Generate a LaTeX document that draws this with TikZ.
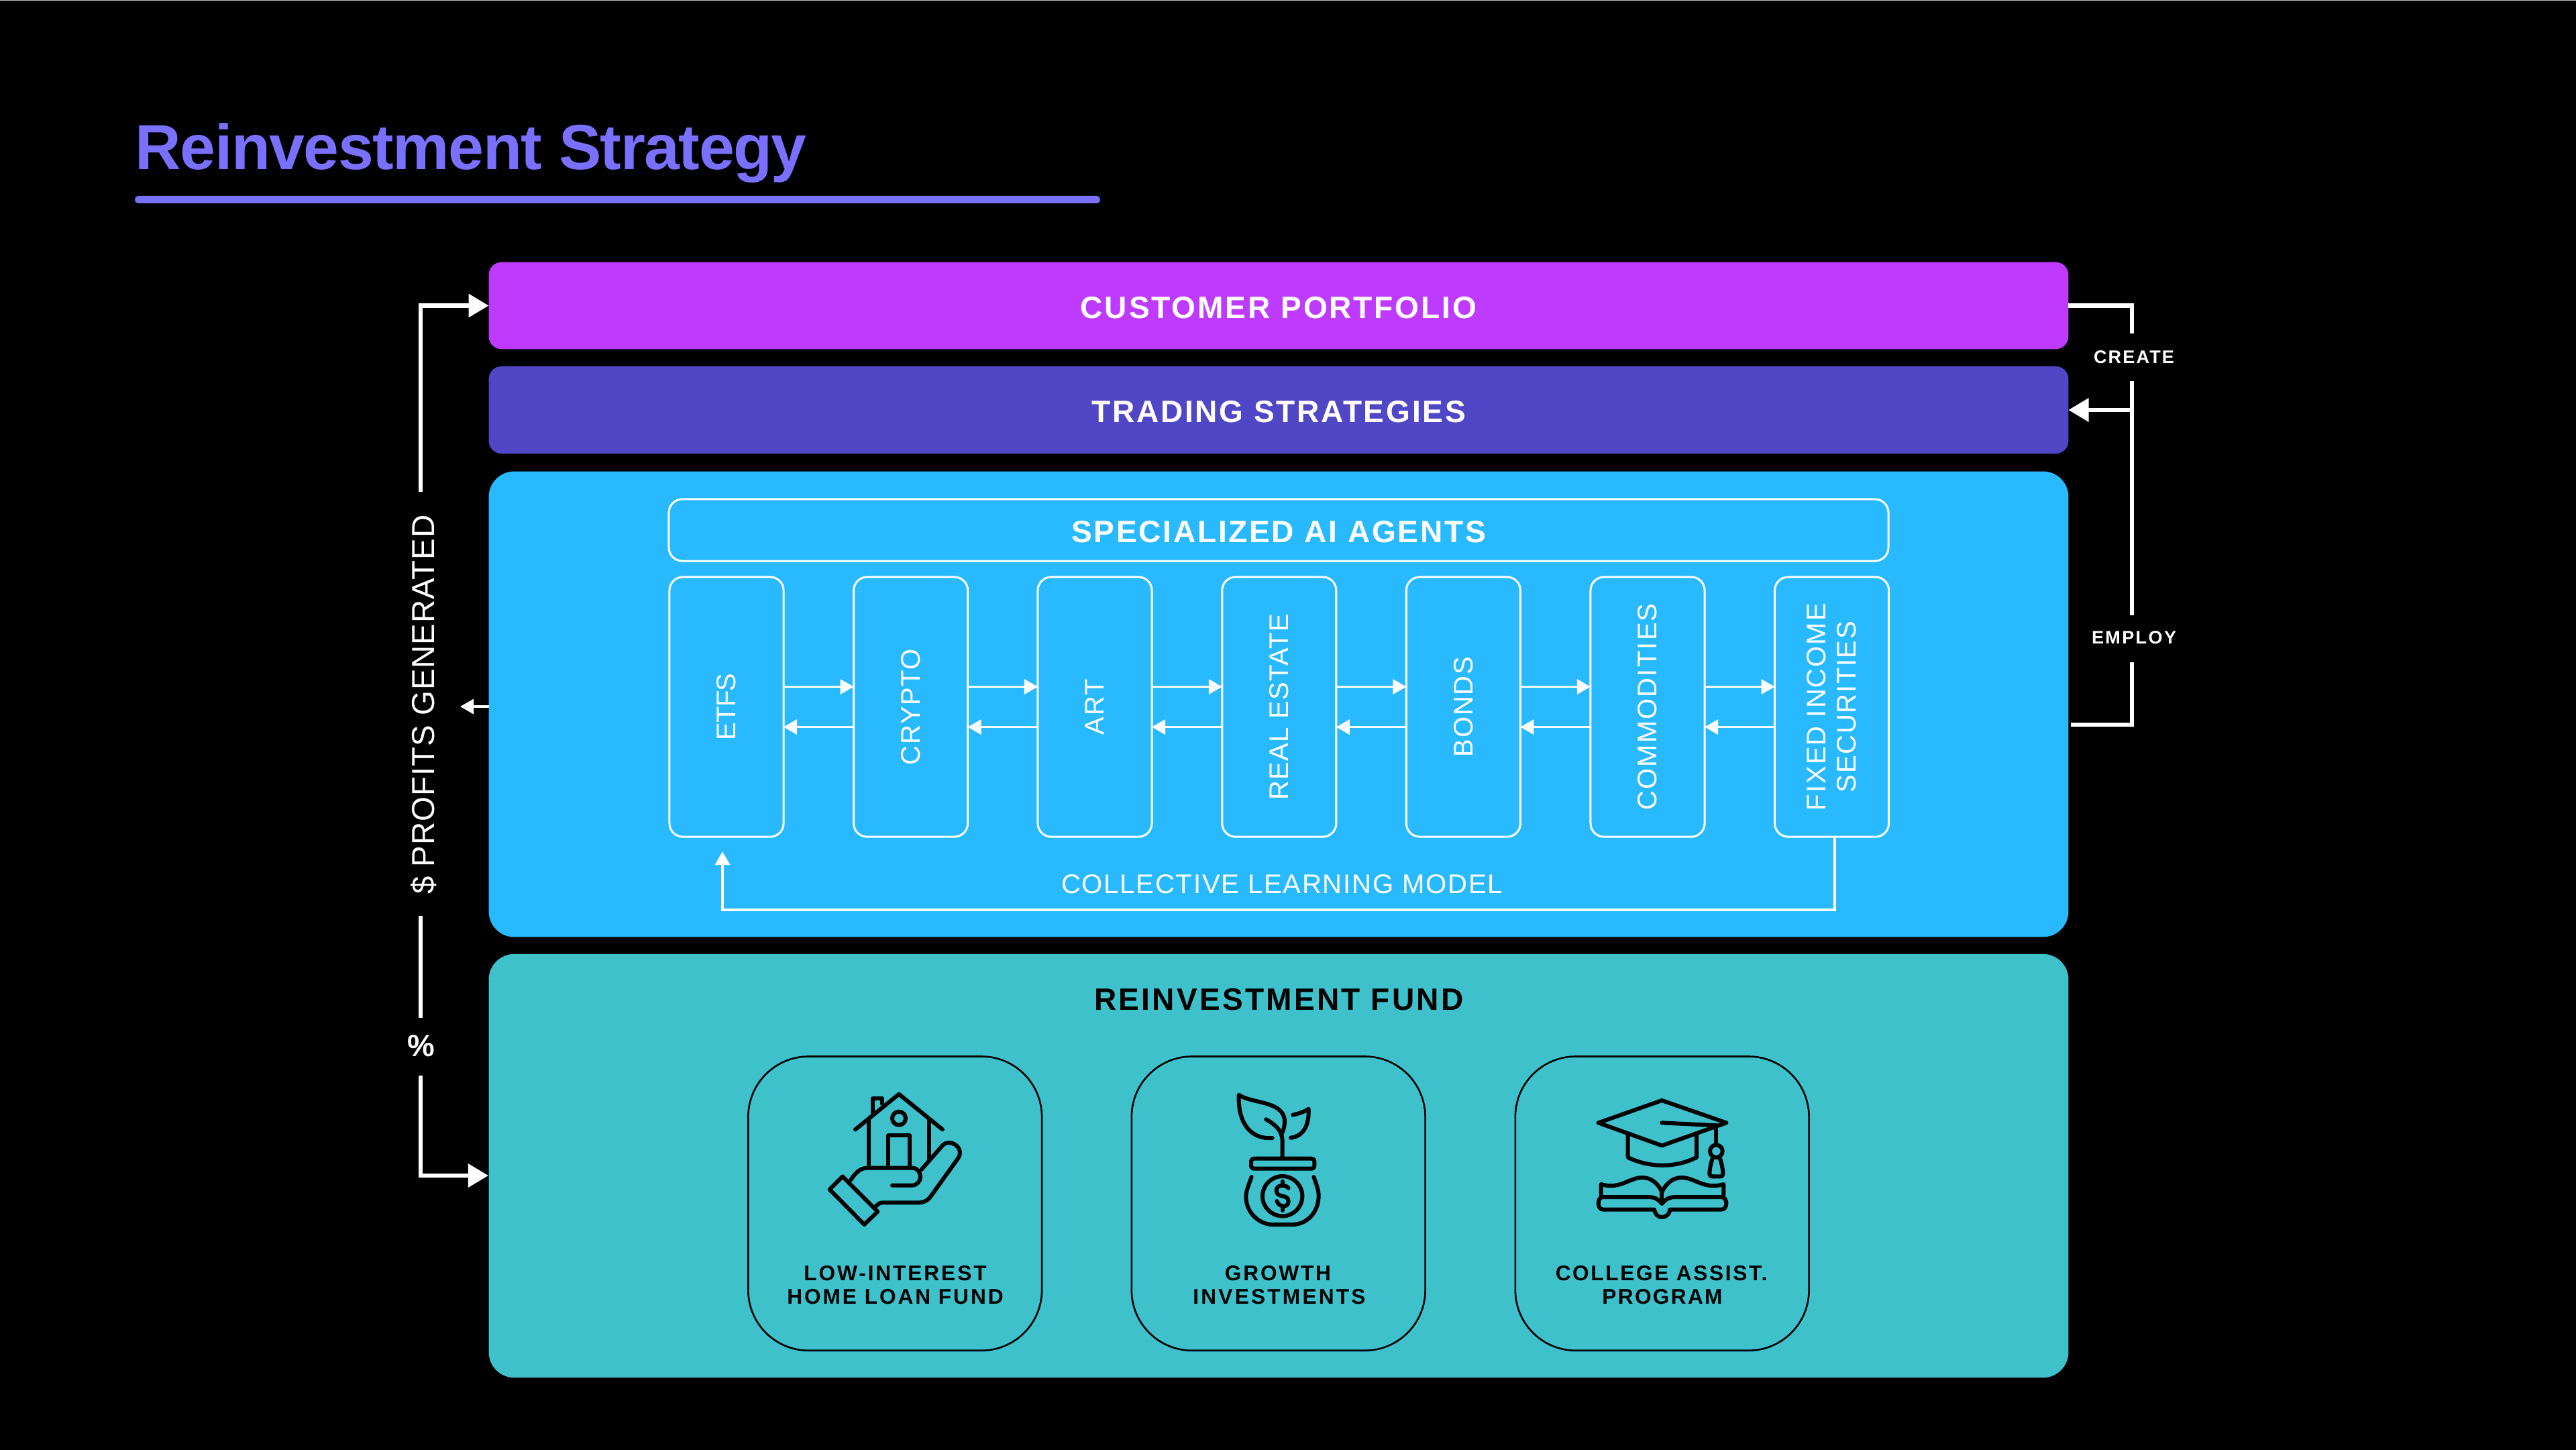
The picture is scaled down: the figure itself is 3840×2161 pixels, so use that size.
\documentclass[tikz,border=0pt]{standalone}
\usepackage{fontspec}
\setmainfont{Liberation Sans}
\usetikzlibrary{arrows.meta}
\ExplSyntaxOn
\cs_new:Npn \nch #1 {\str_count:n{#1}}
\ExplSyntaxOff
\makeatletter
\newcommand\trk[2]{{\setbox0\hbox{#2}\edef\nn{\nch{#2}}%
\pgfmathsetmacro\lsv{100*(#1*0.28453-\the\wd0)/((\nn-1)*\f@size)}%
\edef\tmp{\noexpand\addfontfeature{LetterSpace=\lsv}}\tmp #2}}
\makeatother
\newcommand\dn[1]{\raisebox{-.025cm}[\height][0pt]{#1}}
\definecolor{cpurple}{HTML}{BF3AFF}
\definecolor{cindigo}{HTML}{5046C6}
\definecolor{cblue}{HTML}{29B9FF}
\definecolor{cteal}{HTML}{3FC1CC}
\definecolor{ctitle}{HTML}{7A70FF}
\tikzset{
 bar/.style={inner sep=0,outer sep=0,minimum width=23.535cm,text=white},
 barfont/.style={font=\bfseries\fontsize{13.1}{15}\selectfont},
 agent/.style={draw=white,line width=.03cm,rounded corners=.2cm,inner sep=0,outer sep=0},
 agtext/.style={text=white,inner sep=0,align=center,font=\fontsize{11.4}{12.8}\selectfont},
 card/.style={draw=black,line width=.026cm,rounded corners=.9cm,minimum width=4.375cm,minimum height=4.38cm,inner sep=0,outer sep=0},
 cardtext/.style={text=black,inner sep=0,font=\bfseries\fontsize{9}{10}\selectfont},
 sidetext/.style={text=white,inner sep=0,font=\bfseries\fontsize{7.7}{9}\selectfont},
 heavy/.style={draw=white,line width=.06cm},
 thin/.style={draw=white,line width=.035cm},
 bighead/.style={-{Triangle[length=.3cm,width=.34cm]}},
 smallhead/.style={-{Triangle[length=.2cm,width=.22cm]}},
 icon/.style={draw=black,line width=.06cm,line cap=round,line join=round},
}
\begin{document}
\begin{tikzpicture}[x=.01cm,y=-.01cm]
\useasboundingbox (0,0) rectangle (3840,2161);
\fill[black] (0,0) rectangle (3840,2161);
\fill[black!25!white] (0,0) rectangle (3840,1);
% title
\node[anchor=base west,inner sep=0,text=ctitle,font=\bfseries\fontsize{27}{30}\selectfont] (title) at (201,252.7) {\trk{999}{Reinvestment Strategy}};
\fill[ctitle,rounded corners=.05cm] (201,292) rectangle (1640,303);
% bars
\node[bar,fill=cpurple,rounded corners=.19cm,minimum height=1.295cm,barfont] (purple) at (1906,455.5) {\dn{\trk{593}{CUSTOMER PORTFOLIO}}};
\node[bar,fill=cindigo,rounded corners=.19cm,minimum height=1.3cm,barfont] (indigo) at (1906,611) {\dn{\trk{560}{TRADING STRATEGIES}}};
\node[bar,fill=cblue,rounded corners=.38cm,minimum height=6.935cm] (blue) at (1906,1049.5) {};
\node[bar,fill=cteal,rounded corners=.38cm,minimum height=6.31cm] (teal) at (1906,1737.5) {};
% agents
\node[agent,minimum width=18.17cm,minimum height=.92cm,text=white,barfont] (agents) at (1906,790) {\dn{\trk{623}{SPECIALIZED AI AGENTS}}};
\foreach \i/\x in {1/1083,2/1357.6,3/1632,4/1906.8,5/2181.4,6/2456,7/2730.6}
  \node[agent,minimum width=1.7cm,minimum height=3.87cm] (a\i) at (\x,1053.5) {};
\node[agtext,rotate=90] (t1) at (a1) {\trk{100}{ETFS}};
\node[agtext,rotate=90] (t2) at (a2) {\trk{173}{CRYPTO}};
\node[agtext,rotate=90] (t3) at (a3) {\trk{83}{ART}};
\node[agtext,rotate=90] (t4) at (a4) {\trk{279}{REAL ESTATE}};
\node[agtext,rotate=90] (t5) at (a5) {\trk{150}{BONDS}};
\node[agtext,rotate=90] (t6) at (a6) {\trk{308}{COMMODITIES}};
\node[agtext,rotate=90] (t7) at (a7) {\trk{311}{FIXED INCOME}\\\trk{255}{SECURITIES}};
\foreach \i/\j in {1/2,2/3,3/4,4/5,5/6,6/7}{
  \draw[thin,smallhead] ([yshift=.3cm]a\i.east) -- ([yshift=.3cm]a\j.west);
  \draw[thin,smallhead] ([yshift=-.3cm]a\j.west) -- ([yshift=-.3cm]a\i.east);
}
\coordinate (fbcorner) at (1077,1356);
\coordinate (fbtip) at (1077,1269);
\draw[thin,smallhead] ([xshift=.044cm]a7.south) |- (fbcorner) -- (fbtip);
\node[agtext] (collective) at (1911,1318) {\trk{661}{COLLECTIVE LEARNING MODEL}};
% left side
\node[text=white,inner sep=0,rotate=90,font=\fontsize{13.5}{15}\selectfont] (profits) at (632,1050) {\trk{568}{\$ PROFITS GENERATED}};
\node[text=white,inner sep=0,font=\bfseries\fontsize{13}{15}\selectfont] (pct) at (628,1559) {\%};
\coordinate (l1) at (627,733);
\coordinate (l2) at (627,1365);
\coordinate (l3) at (627,1517);
\coordinate (l4) at (627,1603);
\coordinate (l5) at (728,1752);
\coordinate (l6) at (686,1053);
\coordinate (l7) at (729,1053);
\draw[heavy,bighead] (l1) |- (purple.west);
\draw[heavy] (l2) -- (l3);
\draw[heavy,bighead] (l4) |- (l5);
\draw[thin,smallhead] (l7) -- (l6);
% right side
\node[sidetext] (create) at (3181,532) {\trk{120}{CREATE}};
\node[sidetext] (employ) at (3181,950.5) {\trk{126}{EMPLOY}};
\coordinate (r1) at (3178,497);
\coordinate (r2) at (3178,568);
\coordinate (r3) at (3178,917);
\coordinate (r4) at (3178,611);
\coordinate (r5) at (3178,987);
\coordinate (r6) at (3087,1080);
\draw[heavy] (purple.east) -| (r1);
\draw[heavy] (r2) -- (r3);
\draw[heavy,bighead] (r4) -- (indigo.east);
\draw[heavy] (r5) |- (r6);
% fund
\node[text=black,inner sep=0,barfont] (fund) at (1906.5,1490) {\trk{553}{REINVESTMENT FUND}};
\node[card] (c1) at (1334.2,1793.6) {};
\node[card] (c2) at (1905.7,1793.6) {};
\node[card] (c3) at (2477.7,1793.6) {};
\node[cardtext] (c1a) at (1334.5,1897.5) {\trk{272}{LOW-INTEREST}};
\node[cardtext] (c1b) at (1334.5,1933) {\trk{328}{HOME LOAN FUND}};
\node[cardtext] (c2a) at (1905,1897.5) {\trk{158}{GROWTH}};
\node[cardtext] (c2b) at (1907,1933) {\trk{257}{INVESTMENTS}};
\node[cardtext] (c3a) at (2476.5,1897.5) {\trk{318}{COLLEGE ASSIST.}};
\node[cardtext] (c3b) at (2478,1933) {\trk{179}{PROGRAM}};
% house icon
\begin{scope}[shift={(1200,1600)},scale=.33333]
\draw[icon] (225,250) -- (420,92) -- (615,250);
\draw[icon] (302,180) -- (302,110) -- (345,110) -- (345,135);
\draw[icon] (420,200) circle[radius=.3cm];
\draw[icon] (285,205) -- (285,415);
\draw[icon] (555,210) -- (555,390);
\draw[icon] (372,415) -- (372,277) -- (468,277) -- (468,415);
\draw[icon] (168,460) -- (110,518) -- (265,675) -- (325,617) -- cycle;
\draw[icon] (205,475) .. controls (225,445) and (245,422) .. (280,422) -- (480,422) .. controls (505,422) and (516,445) .. (516,462) .. controls (516,482) and (500,500) .. (478,500) -- (390,500);
\draw[icon] (520,430) -- (618,318) .. controls (650,290) and (715,330) .. (685,378) -- (565,545) .. controls (550,568) and (530,577) .. (510,577) -- (345,577) .. controls (335,577) and (325,585) .. (315,595);
\end{scope}
% plant icon
\begin{scope}[shift={(1800,1600)},scale=.33333]
\draw[icon] (290,288) .. controls (200,295) and (135,230) .. (140,95) .. controls (195,135) and (345,120) .. (345,215) .. controls (345,235) and (340,250) .. (332,270);
\draw[icon] (262,205) .. controls (300,225) and (335,255) .. (335,300) -- (335,375);
\draw[icon] (382,185) .. controls (410,178) and (435,170) .. (452,158) .. controls (455,230) and (430,280) .. (372,287);
\draw[icon,rounded corners=.04cm] (195,380) rectangle (478,425);
\draw[icon] (197,462) .. controls (185,495) and (172,525) .. (172,550) .. controls (172,625) and (235,675) .. (290,675) -- (380,675) .. controls (440,675) and (497,625) .. (497,545) .. controls (497,520) and (485,490) .. (475,462);
\draw[icon] (335,548) circle[radius=.89cm];
\draw[icon] (362,512) .. controls (350,495) and (308,495) .. (308,522) .. controls (308,560) and (362,535) .. (362,572) .. controls (362,600) and (320,600) .. (310,570);
\draw[icon] (335,482) -- (335,498);
\draw[icon] (335,598) -- (335,612);
\end{scope}
% graduation icon
\begin{scope}[shift={(2360,1620)},scale=.33333]
\draw[icon] (352,60) -- (640,160) -- (352,262) -- (68,160) -- cycle;
\draw[icon] (352,160) -- (600,172);
\draw[icon] (200,215) -- (200,315) .. controls (300,362) and (410,362) .. (507,315) -- (507,215);
\draw[icon] (595,175) -- (595,255);
\draw[icon] (595,287) circle[radius=.28cm];
\draw[icon] (578,320) .. controls (568,350) and (565,375) .. (565,390) .. controls (565,398) and (572,400) .. (580,400) -- (610,400) .. controls (620,400) and (625,398) .. (625,390) .. controls (625,375) and (622,350) .. (612,320);
\draw[icon] (80,485) -- (80,435) .. controls (165,460) and (205,405) .. (265,405) .. controls (310,405) and (340,440) .. (352,470) .. controls (365,440) and (395,405) .. (440,405) .. controls (500,405) and (540,460) .. (628,435) -- (628,485);
\draw[icon] (352,470) -- (352,515);
\draw[icon] (352,522) .. controls (335,500) and (320,492) .. (290,492) -- (90,492) .. controls (75,492) and (68,505) .. (68,520) .. controls (68,535) and (75,548) .. (90,548) -- (318,548) .. controls (322,570) and (335,582) .. (352,582) .. controls (370,582) and (385,570) .. (388,548) -- (618,548) .. controls (632,548) and (640,535) .. (640,520) .. controls (640,505) and (632,492) .. (618,492) -- (415,492) .. controls (385,492) and (370,500) .. (352,522) -- cycle;
\end{scope}
\end{tikzpicture}
\end{document}
